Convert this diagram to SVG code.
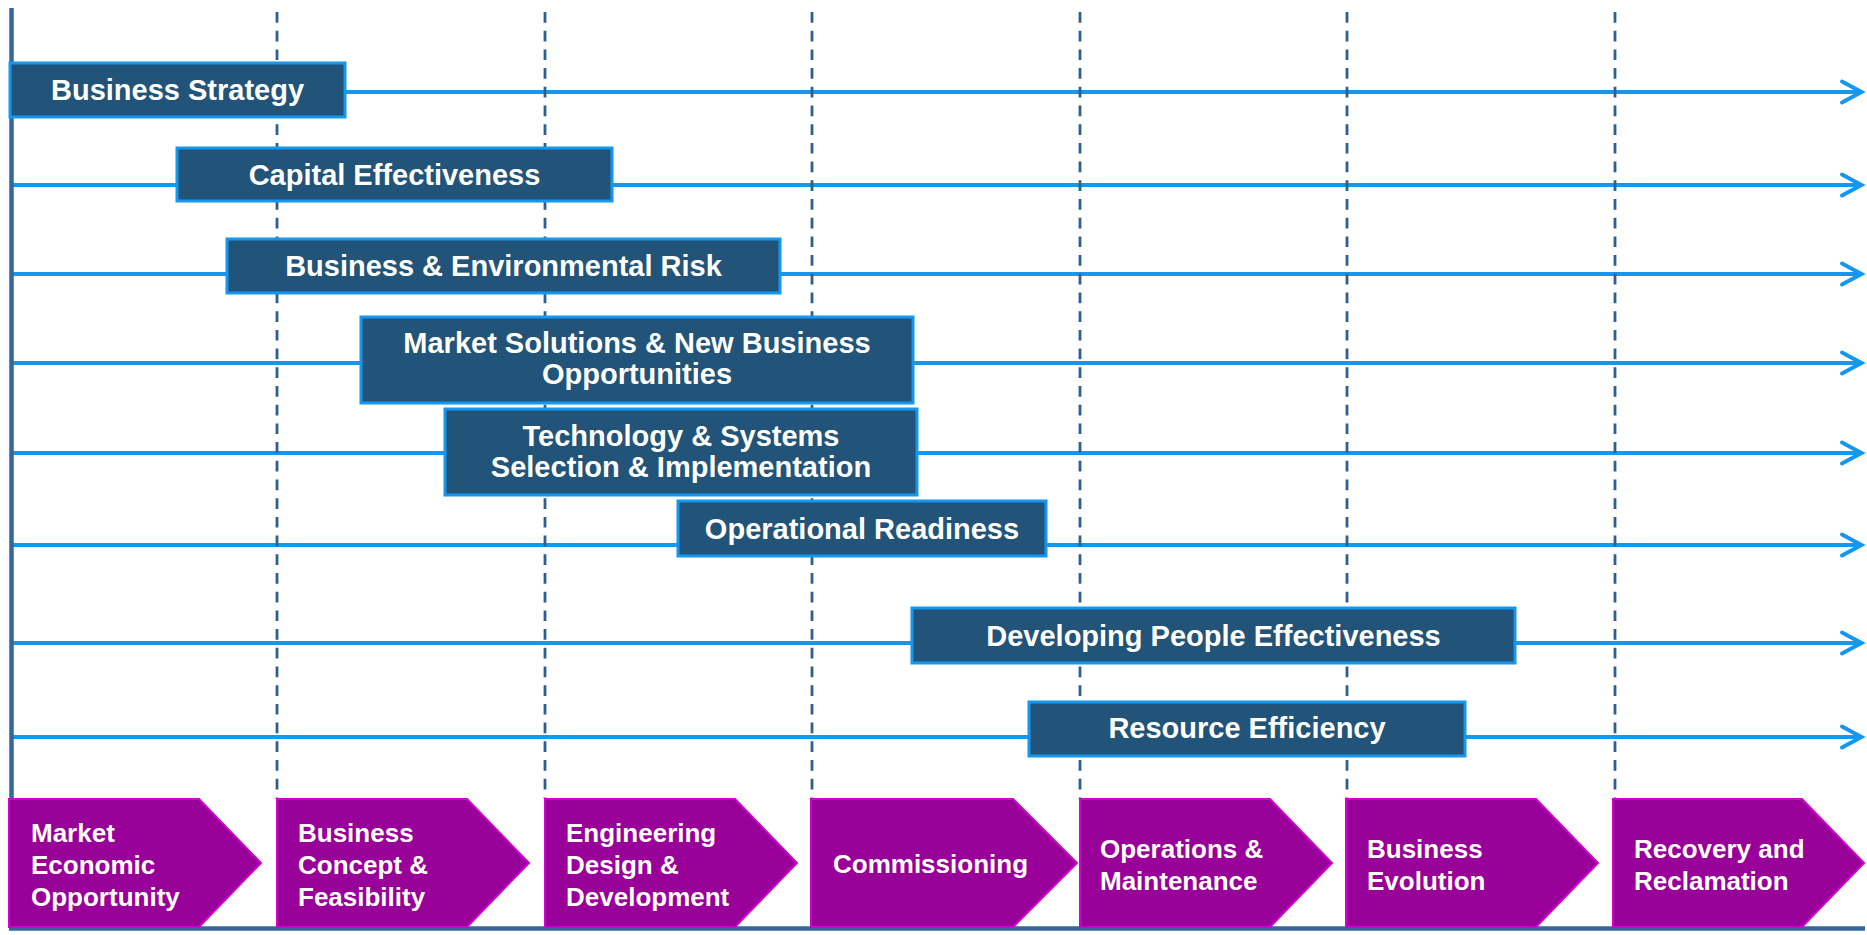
<svg xmlns="http://www.w3.org/2000/svg" width="1867" height="935" viewBox="0 0 1867 935">
  <defs>
    <style>
      .axis { stroke: #35679A; stroke-width: 4.5; fill: none; }
      .grid { stroke: #2F5F8F; stroke-width: 2.8; stroke-dasharray: 10.7 8; fill: none; }
      .flow { stroke: #1597EF; stroke-width: 4; fill: none; }
      .head { stroke: #1597EF; stroke-width: 4; fill: none; stroke-linecap: round; stroke-linejoin: miter; }
      .box { fill: #215478; stroke: #1597EF; stroke-width: 3; }
      .box-text { fill: #FFFFFF; font-family: "Liberation Sans", Arial, sans-serif; font-weight: bold; font-size: 29px; text-anchor: middle; }
      .phase { fill: #990099; stroke: #D000D0; stroke-width: 2; }
      .phase-text { fill: #FFFFFF; font-family: "Liberation Sans", Arial, sans-serif; font-weight: bold; font-size: 26px; }
    </style>
  </defs>

  <rect width="1867" height="935" fill="#FFFFFF"/>

  <!-- timeline arrows -->
  <g id="connectors">
    <line class="flow" x1="12" y1="92" x2="1860" y2="92"/>
    <polyline class="head" points="1842,81.5 1861.5,92 1842,102.5"/>
    <line class="flow" x1="12" y1="185" x2="1860" y2="185"/>
    <polyline class="head" points="1842,174.5 1861.5,185 1842,195.5"/>
    <line class="flow" x1="12" y1="274" x2="1860" y2="274"/>
    <polyline class="head" points="1842,263.5 1861.5,274 1842,284.5"/>
    <line class="flow" x1="12" y1="363" x2="1860" y2="363"/>
    <polyline class="head" points="1842,352.5 1861.5,363 1842,373.5"/>
    <line class="flow" x1="12" y1="453" x2="1860" y2="453"/>
    <polyline class="head" points="1842,442.5 1861.5,453 1842,463.5"/>
    <line class="flow" x1="12" y1="545" x2="1860" y2="545"/>
    <polyline class="head" points="1842,534.5 1861.5,545 1842,555.5"/>
    <line class="flow" x1="12" y1="643" x2="1860" y2="643"/>
    <polyline class="head" points="1842,632.5 1861.5,643 1842,653.5"/>
    <line class="flow" x1="12" y1="737" x2="1860" y2="737"/>
    <polyline class="head" points="1842,726.5 1861.5,737 1842,747.5"/>
  </g>

  <!-- phase boundaries and axes -->
  <g id="grid">
    <line class="grid" x1="277" y1="12" x2="277" y2="799"/>
    <line class="grid" x1="545" y1="12" x2="545" y2="799"/>
    <line class="grid" x1="812" y1="12" x2="812" y2="799"/>
    <line class="grid" x1="1080" y1="12" x2="1080" y2="799"/>
    <line class="grid" x1="1347" y1="12" x2="1347" y2="799"/>
    <line class="grid" x1="1615" y1="12" x2="1615" y2="799"/>
    <line class="axis" x1="11.5" y1="8" x2="11.5" y2="930"/>
    <line class="axis" x1="9" y1="928.5" x2="1865" y2="928.5"/>
  </g>

  <!-- activity boxes -->
  <g id="business-strategy">
    <rect class="box" x="10" y="63" width="335" height="54"/>
    <text class="box-text" x="177.5" y="100">Business Strategy</text>
  </g>
  <g id="capital-effectiveness">
    <rect class="box" x="177" y="148" width="435" height="53"/>
    <text class="box-text" x="394.5" y="184.5">Capital Effectiveness</text>
  </g>
  <g id="business-environmental-risk">
    <rect class="box" x="227" y="239" width="553" height="54"/>
    <text class="box-text" x="503.5" y="276">Business &amp; Environmental Risk</text>
  </g>
  <g id="market-solutions">
    <rect class="box" x="361" y="317" width="552" height="86"/>
    <text class="box-text" x="637" y="353">Market Solutions &amp; New Business</text>
    <text class="box-text" x="637" y="384">Opportunities</text>
  </g>
  <g id="technology-systems">
    <rect class="box" x="445" y="409" width="472" height="86"/>
    <text class="box-text" x="681" y="445.5">Technology &amp; Systems</text>
    <text class="box-text" x="681" y="476.5">Selection &amp; Implementation</text>
  </g>
  <g id="operational-readiness">
    <rect class="box" x="678" y="501" width="368" height="55"/>
    <text class="box-text" x="862" y="538.5">Operational Readiness</text>
  </g>
  <g id="developing-people">
    <rect class="box" x="912" y="608" width="603" height="55"/>
    <text class="box-text" x="1213.5" y="645.5">Developing People Effectiveness</text>
  </g>
  <g id="resource-efficiency">
    <rect class="box" x="1029" y="702" width="436" height="54"/>
    <text class="box-text" x="1247" y="738">Resource Efficiency</text>
  </g>

  <!-- lifecycle phases -->
  <g id="phase-market">
    <polygon class="phase" points="9,799 199,799 261,863 199,927 9,927"/>
    <text class="phase-text" x="31" y="842">Market</text>
    <text class="phase-text" x="31" y="874">Economic</text>
    <text class="phase-text" x="31" y="906">Opportunity</text>
  </g>
  <g id="phase-concept">
    <polygon class="phase" points="277,799 467,799 529,863 467,927 277,927"/>
    <text class="phase-text" x="298" y="842">Business</text>
    <text class="phase-text" x="298" y="874">Concept &amp;</text>
    <text class="phase-text" x="298" y="906">Feasibility</text>
  </g>
  <g id="phase-engineering">
    <polygon class="phase" points="545,799 735,799 797,863 735,927 545,927"/>
    <text class="phase-text" x="566" y="842">Engineering</text>
    <text class="phase-text" x="566" y="874">Design &amp;</text>
    <text class="phase-text" x="566" y="906">Development</text>
  </g>
  <g id="phase-commissioning">
    <polygon class="phase" points="811,799 1013,799 1077,863 1013,927 811,927"/>
    <text class="phase-text" x="833" y="873">Commissioning</text>
  </g>
  <g id="phase-operations">
    <polygon class="phase" points="1080,799 1270,799 1332,863 1270,927 1080,927"/>
    <text class="phase-text" x="1100" y="858">Operations &amp;</text>
    <text class="phase-text" x="1100" y="890">Maintenance</text>
  </g>
  <g id="phase-evolution">
    <polygon class="phase" points="1346,799 1536,799 1598,863 1536,927 1346,927"/>
    <text class="phase-text" x="1367" y="858">Business</text>
    <text class="phase-text" x="1367" y="890">Evolution</text>
  </g>
  <g id="phase-recovery">
    <polygon class="phase" points="1613,799 1802,799 1864,863 1802,927 1613,927"/>
    <text class="phase-text" x="1634" y="858">Recovery and</text>
    <text class="phase-text" x="1634" y="890">Reclamation</text>
  </g>
</svg>
